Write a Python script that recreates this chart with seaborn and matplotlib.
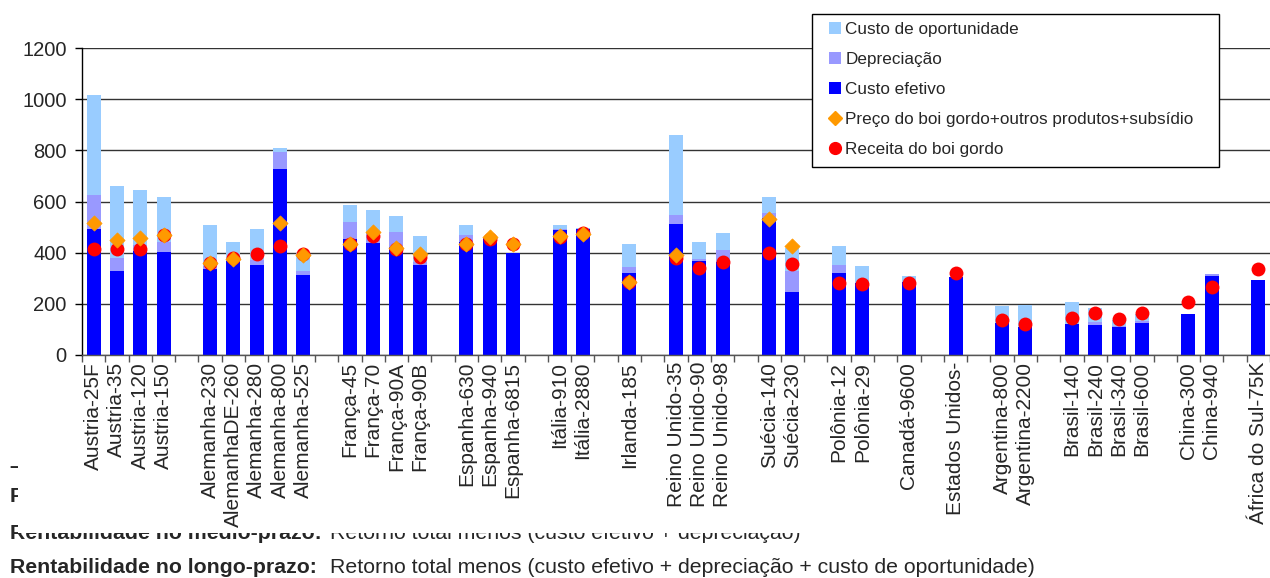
import numpy as np
import pandas as pd
import matplotlib
matplotlib.use("Agg")
import matplotlib.pyplot as plt
import seaborn as sns
from matplotlib.patches import Rectangle, Patch
from matplotlib.lines import Line2D

# ---- dados (US$ por 100 kg de peso vivo) ----
paises = ["Austria-25F", "Austria-35", "Austria-120", "Austria-150",
          "Alemanha-230", "AlemanhaDE-260", "Alemanha-280", "Alemanha-800", "Alemanha-525",
          "França-45", "França-70", "França-90A", "França-90B",
          "Espanha-630", "Espanha-940", "Espanha-6815",
          "Itália-910", "Itália-2880",
          "Irlanda-185",
          "Reino Unido-35", "Reino Unido-90", "Reino Unido-98",
          "Suécia-140", "Suécia-230",
          "Polônia-12", "Polônia-29",
          "Canadá-9600",
          "Estados Unidos-",
          "Argentina-800", "Argentina-2200",
          "Brasil-140", "Brasil-240", "Brasil-340", "Brasil-600",
          "China-300", "China-940",
          "África do Sul-75K"]
# número de fazendas por país (grupos separados por um espaço vazio)
grupos = [4, 5, 4, 3, 2, 1, 3, 2, 2, 1, 1, 2, 4, 2, 1]

custo_efetivo = [493, 329, 405, 404, 337, 368, 352, 728, 313, 452, 439, 424, 352,
                 443, 456, 398, 489, 491, 320, 513, 367, 362, 535, 246, 321, 280,
                 287, 306, 125, 110, 121, 117, 109, 126, 160, 309, 293]
depreciacao = [133, 52, 25, 39, 10, 8, 20, 66, 16, 68, 41, 57, 13,
               26, 0, 0, 5, 3, 24, 35, 7, 49, 19, 83, 31, 0,
               0, 0, 0, 0, 0, 12, 5, 5, 0, 8, 0]
custo_oportunidade = [391, 280, 215, 175, 162, 66, 121, 17, 70, 66, 87, 63, 101,
                      40, 4, 0, 15, 2, 90, 313, 68, 66, 64, 91, 74, 68,
                      22, 0, 67, 86, 86, 55, 24, 29, 0, 0, 0]
nan = np.nan
preco_boi_outros_subsidio = [515, 450, 458, 470, 360, 376, nan, 517, 391, 433, 482, 417, 395,
                             433, 463, 433, 465, 473, 287, 389, nan, nan, 530, 426, nan, nan,
                             nan, nan, nan, nan, nan, nan, nan, nan, nan, nan, nan]
receita_boi_gordo = [416, 416, 416, 468, 358, 380, 394, 425, 394, 435, 465, 415, 385,
                     433, 452, 433, 462, 476, 287, 378, 342, 364, 400, 357, 283, 276,
                     283, 319, 136, 121, 143, 164, 142, 164, 208, 267, 335]
y_ticks = [0, 200, 400, 600, 800, 1000, 1200]

# ---- estilo ----
W, H = 1270, 578
sns.set_style("white")
plt.rcParams["font.family"] = ["Liberation Sans", "DejaVu Sans"]

C_OPORT, C_DEPR, C_EFET = "#99CCFF", "#9999FF", "#0000FF"
C_PRECO, C_RECEITA = "#FF9900", "#FF0000"

# posição de cada fazenda no eixo, com uma casa vazia entre países
pos = []
slot = 0
for n in grupos:
    for _ in range(n):
        pos.append(slot)
        slot += 1
    slot += 1
n_slots = slot - 1

df = pd.DataFrame({
    "pos": pos,
    "efetivo": custo_efetivo,
    "efet_depr": np.add(custo_efetivo, depreciacao),
    "total": np.add(np.add(custo_efetivo, depreciacao), custo_oportunidade),
    "preco": preco_boi_outros_subsidio,
    "receita": receita_boi_gordo,
})

fig = plt.figure(figsize=(W / 100, H / 100), dpi=100)


def fx(px):
    return px / W


def fy(py):
    return 1 - py / H


# texto do documento por trás do gráfico
fs_doc = 15.3
fig.text(fx(9), fy(466), "–", fontsize=fs_doc, fontweight="bold", va="center", zorder=1)
fig.text(fx(10), fy(502), "R", fontsize=fs_doc,
         fontweight="bold", va="baseline", zorder=1)
fig.text(fx(10), fy(539), "Rentabilidade no médio-prazo:", fontsize=fs_doc,
         fontweight="bold", va="baseline", zorder=1)
fig.text(fx(330), fy(539), "Retorno total menos (custo efetivo + depreciação)",
         fontsize=fs_doc, va="baseline", zorder=1)
fig.text(fx(10), fy(573), "Rentabilidade no longo-prazo:", fontsize=fs_doc,
         fontweight="bold", va="baseline", zorder=1)
fig.text(fx(330), fy(573),
         "Retorno total menos (custo efetivo + depreciação + custo de oportunidade)",
         fontsize=fs_doc, va="baseline", zorder=1)

# área branca do gráfico
fig.add_artist(Rectangle((fx(18), fy(533)), 1 - fx(18), 533 / H,
                         transform=fig.transFigure, facecolor="white",
                         edgecolor="none", zorder=2))

ax = fig.add_axes([fx(82), fy(355), 1 - fx(82), (355 - 48) / H])
ax.set_zorder(3)

# colunas empilhadas: total, efetivo+depreciação, efetivo
for col, cor in [("total", C_OPORT), ("efet_depr", C_DEPR), ("efetivo", C_EFET)]:
    sns.barplot(data=df, x="pos", y=col, native_scale=True, width=0.6,
                color=cor, saturation=1, errorbar=None, linewidth=0, ax=ax)

sns.scatterplot(data=df, x="pos", y="receita", marker="o", s=100,
                color=C_RECEITA, edgecolor=C_RECEITA, linewidth=0,
                legend=False, zorder=4, ax=ax)
sns.scatterplot(data=df, x="pos", y="preco", marker="D", s=60,
                color=C_PRECO, edgecolor=C_PRECO, linewidth=0.5,
                legend=False, zorder=5, ax=ax)

ax.set_xlim(-0.5, n_slots - 0.5)
ax.set_ylim(0, 1200)
ax.set_xlabel("")
ax.set_ylabel("")

ax.set_xticks(pos)
ax.set_xticklabels(paises, rotation=90, fontsize=15)
ax.set_xticks(np.arange(-0.5, n_slots, 1), minor=True)
ax.tick_params(axis="x", which="major", bottom=True, length=0, pad=5)
ax.tick_params(axis="x", which="minor", bottom=True, length=5, width=1, color="#555555")

ax.set_yticks(y_ticks)
ax.tick_params(axis="y", which="major", left=True, length=5, width=1,
               color="black", pad=6, labelsize=14.5)

ax.yaxis.grid(True, color="#333333", linewidth=1)
ax.xaxis.grid(False)
ax.set_axisbelow(True)

for s in ["top", "right"]:
    ax.spines[s].set_visible(False)
ax.spines["left"].set_color("black")
ax.spines["left"].set_linewidth(1)
ax.spines["bottom"].set_color("#555555")
ax.spines["bottom"].set_linewidth(1)

# legenda com moldura
fig.add_artist(Rectangle((fx(812), fy(167)), (1219 - 812) / W, (167 - 14) / H,
                         transform=fig.transFigure, facecolor="white",
                         edgecolor="black", linewidth=1, zorder=6))
handles = [
    Patch(facecolor=C_OPORT, edgecolor="none", label="Custo de oportunidade"),
    Patch(facecolor=C_DEPR, edgecolor="none", label="Depreciação"),
    Patch(facecolor=C_EFET, edgecolor="none", label="Custo efetivo"),
    Line2D([], [], marker="D", linestyle="none", markersize=7.5, color=C_PRECO,
           label="Preço do boi gordo+outros produtos+subsídio"),
    Line2D([], [], marker="o", linestyle="none", markersize=8.5, color=C_RECEITA,
           label="Receita do boi gordo"),
]
leg = fig.legend(handles=handles, loc="upper left",
                 bbox_to_anchor=(fx(829), fy(22)), frameon=False,
                 fontsize=12.3, handlelength=0.7, handleheight=0.7,
                 handletextpad=0.25, labelspacing=0.88, borderpad=0,
                 borderaxespad=0)
leg.set_zorder(7)

fig.savefig("out.png", dpi=100)
